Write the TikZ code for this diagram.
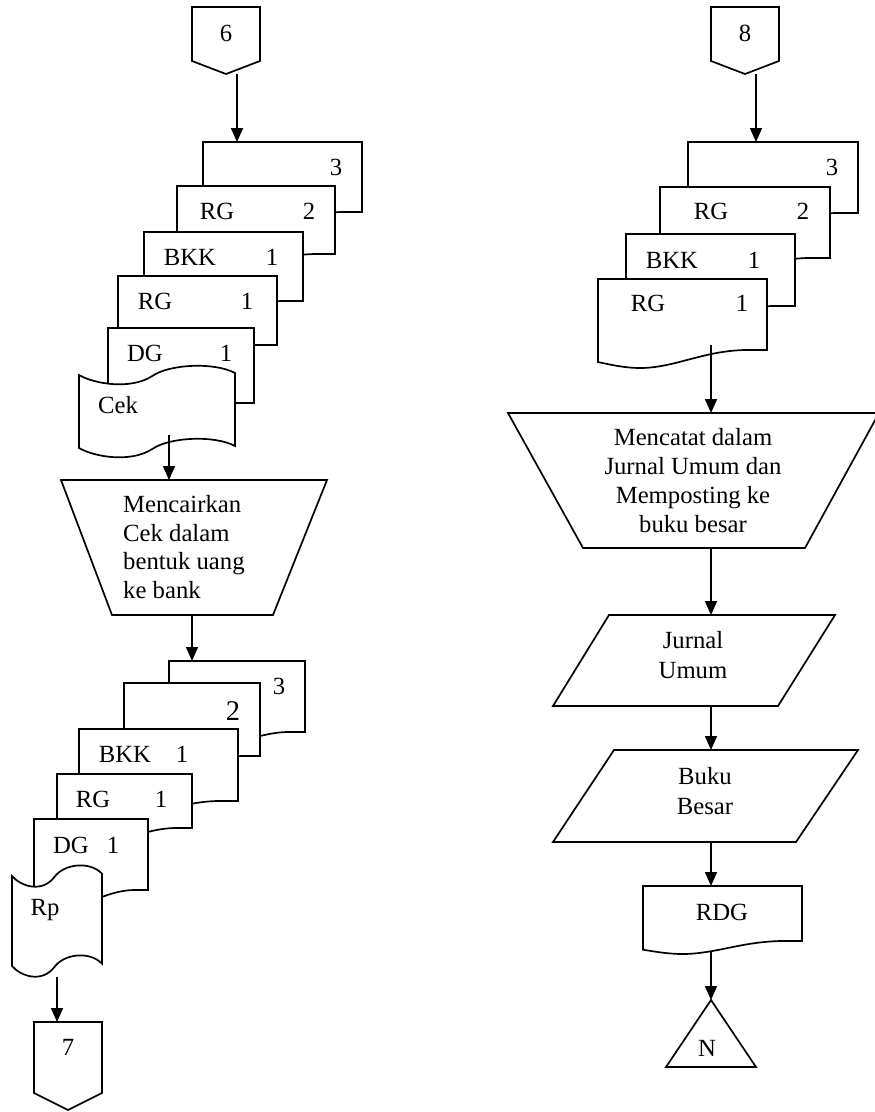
\documentclass[tikz,border=0pt]{standalone}
\usepackage{fontspec}
\setmainfont{Liberation Serif}
\usetikzlibrary{arrows.meta}
\newcommand\fs{\fontsize{24.7}{29}\selectfont}
\newcommand\fsL{\fontsize{24.7}{28.5}\selectfont}
\newcommand\fsbig{\fontsize{28.5}{30}\selectfont}
% document shape: [amplitude] L T R B(right bottom)
\newcommand\docshape[5][18]{%
 \draw[shp] (#2,#3) -- (#4,#3) -- (#4,#5) -- ({#2+0.87*(#4-#2)},#5)
 .. controls ({#2+0.62*(#4-#2)},{#5+0.05*#1}) and ({#2+0.45*(#4-#2)},{#5+#1}) .. ({#2+0.25*(#4-#2)},{#5+#1})
 .. controls ({#2+0.15*(#4-#2)},{#5+#1}) and ({#2+0.06*(#4-#2)},{#5+0.78*#1}) .. (#2,{#5+0.67*#1}) -- cycle;}
% punched tape: L W y0 H A
\newcommand\tapeshape[5]{%
 \draw[shp] (#1,#3) .. controls ({#1+0.1*#2},{#3+9*#5}) and ({#1+0.33*#2},{#3+15*#5}) .. ({#1+0.47*#2},{#3+#5})
  .. controls ({#1+0.58*#2},{#3-11*#5}) and ({#1+0.87*#2},{#3-13*#5}) .. ({#1+#2},{#3-2*#5})
  -- ({#1+#2},{#3-2*#5+#4})
  .. controls ({#1+0.87*#2},{#3-13*#5+#4}) and ({#1+0.58*#2},{#3-11*#5+#4}) .. ({#1+0.47*#2},{#3+#5+#4})
  .. controls ({#1+0.33*#2},{#3+15*#5+#4}) and ({#1+0.1*#2},{#3+9*#5+#4}) .. (#1,{#3+#4}) -- cycle;}
\begin{document}
\begin{tikzpicture}[x=1pt,y=-1pt,
  shp/.style={draw=black, fill=white, line width=1.7pt, line join=miter},
  lbl/.style={font=\fs, inner sep=0pt, anchor=base},
  mlbl/.style={font=\fs, inner sep=0pt, align=center, anchor=base},
  arr/.style={-{Triangle[length=14pt,width=12pt]}, line width=1.7pt}]
\useasboundingbox (0,0) rectangle (875,1112);

% ---------------- LEFT COLUMN ----------------
\draw[shp] (192,7) -- (260,7) -- (260,61) -- (226,74) -- (192,61) -- cycle;
\node[lbl] (c6) at (226,41) {6};

\docshape{203}{142}{362}{212}
\node[lbl] (l3) at (336,175) {3};
\docshape{177}{186}{335}{254}
\node[lbl] (lrg2) at (217,219) {RG};
\node[lbl] (l2) at (309,219) {2};
\docshape{144}{232}{303}{301}
\node[lbl] (lbkk) at (190,265) {BKK};
\node[lbl] (lbkk1) at (272,265) {1};
\docshape{118}{276}{277}{345}
\node[lbl] (lrg1) at (155,309) {RG};
\node[lbl] (lrg11) at (247,309) {1};
\docshape{108}{328}{254}{403}
\node[lbl] (ldg) at (145,361) {DG};
\node[lbl] (ldg1) at (226,361) {1};
\tapeshape{79}{156}{375}{73}{1}
\node[lbl] (cek) at (118,413) {Cek};

\draw[shp] (61,480) -- (327,480) -- (273,615) -- (112,615) -- cycle;
\node[font=\fsL, inner sep=0pt, align=left, anchor=base west] (mc) at (123,598)
  {Mencairkan\\Cek dalam\\bentuk uang\\ke bank};

\docshape{169}{661}{305}{732}
\node[lbl] (b3) at (279,694) {3};
\docshape{124}{683}{260}{756}
\node[lbl, font=\fsbig] (b2) at (233,720) {2};
\docshape{79}{729}{238}{801}
\node[lbl] (bbkk) at (125,762) {BKK};
\node[lbl] (bbkk1) at (182,762) {1};
\docshape{57}{774}{192}{828}
\node[lbl] (brg) at (93,807) {RG};
\node[lbl] (brg1) at (161,807) {1};
\docshape{34}{819}{148}{890}
\node[lbl] (bdg) at (71,853) {DG};
\node[lbl] (bdg1) at (113,853) {1};
\tapeshape{12}{90}{876}{90}{1.15}
\node[lbl] (rp) at (45,915) {Rp};

\draw[shp] (34,1022) -- (102,1022) -- (102,1093) -- (68,1110) -- (34,1093) -- cycle;
\node[lbl] (c7) at (68,1055) {7};

\coordinate (a6s) at (237,74);   \coordinate (a6e) at (237,142);
\coordinate (cekout) at (169,435); \coordinate (trLtop) at (169,480);
\coordinate (trLbot) at (192,615); \coordinate (b3top) at (192,661);
\coordinate (rpout) at (57,977); \coordinate (c7top) at (57,1022);
\draw[arr] (a6s) -- (a6e);
\draw[arr] (cekout) -- (trLtop);
\draw[arr] (trLbot) -- (b3top);
\draw[arr] (rpout) -- (c7top);

% ---------------- RIGHT COLUMN ----------------
\draw[shp] (711,7) -- (779,7) -- (779,61) -- (745,74) -- (711,61) -- cycle;
\node[lbl] (c8) at (745,41) {8};

\docshape{688}{142}{858}{213}
\node[lbl] (r3) at (832,175) {3};
\docshape{660}{187}{830}{258}
\node[lbl] (rrg2) at (711,219) {RG};
\node[lbl] (r2) at (803,219) {2};
\docshape{626}{234}{795}{306}
\node[lbl] (rbkk) at (672,268) {BKK};
\node[lbl] (rbkk1) at (754,268) {1};
\docshape{598}{279}{767}{350}
\node[lbl] (rrg1) at (648,311) {RG};
\node[lbl] (rrg11) at (742,311) {1};

\draw[shp] (508,413) -- (879,413) -- (805,548) -- (583,548) -- cycle;
\node[mlbl] (mj) at (693,532)
  {Mencatat dalam\\Jurnal Umum dan\\Memposting ke\\buku besar};

\draw[shp] (609,615) -- (835,615) -- (778,706) -- (553,706) -- cycle;
\node[mlbl, font=\fontsize{24.7}{30}\selectfont] (ju) at (693,678) {Jurnal\\Umum};

\draw[shp] (614,750) -- (858,750) -- (796,842) -- (553,842) -- cycle;
\node[mlbl, font=\fontsize{24.7}{30}\selectfont] (bb) at (705,814) {Buku\\Besar};

\docshape[13]{643}{886}{802}{941}
\node[lbl] (rdg) at (722,920) {RDG};

\draw[shp] (711,1000) -- (756,1067) -- (666,1067) -- cycle;
\node[lbl] (n) at (707,1056) {N};

\coordinate (a8s) at (756,74);  \coordinate (a8e) at (756,142);
\coordinate (rgout) at (711,345); \coordinate (trRtop) at (711,413);
\coordinate (trRbot) at (711,548); \coordinate (jutop) at (711,615);
\coordinate (jubot) at (711,706); \coordinate (bbtop) at (711,750);
\coordinate (bbbot) at (711,842); \coordinate (rdgtop) at (711,886);
\coordinate (rdgout) at (711,952); \coordinate (tritop) at (711,1000);
\draw[arr] (a8s) -- (a8e);
\draw[arr] (rgout) -- (trRtop);
\draw[arr] (trRbot) -- (jutop);
\draw[arr] (jubot) -- (bbtop);
\draw[arr] (bbbot) -- (rdgtop);
\draw[arr] (rdgout) -- (tritop);
\end{tikzpicture}
\end{document}
